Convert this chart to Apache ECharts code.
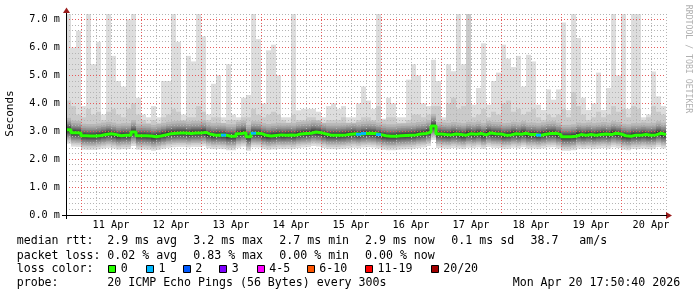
<!DOCTYPE html>
<html><head><meta charset="utf-8">
<script src="https://cdn.jsdelivr.net/npm/echarts@6/dist/echarts.min.js"></script>
<style>html,body{margin:0;padding:0;background:#fff}#c{width:697px;height:297px}</style>
</head><body><div id="c"></div>
<script>
// ---- data ----
const dayLabels = ['11 Apr','12 Apr','13 Apr','14 Apr','15 Apr','16 Apr','17 Apr','18 Apr','19 Apr','20 Apr'];
const yTickLabels = ['0.0 m','1.0 m','2.0 m','3.0 m','4.0 m','5.0 m','6.0 m','7.0 m'];
const hourStart = 18;   // hours after 10 Apr 00:00 at left edge
const stepHours = 2;    // one column = 2 hours
const hourEnd = 258;

// median RTT (ms), one value per 2-hour column
const rttMedian = [
 3.05,2.95,2.94,2.84,2.83,2.83,2.85,2.88,2.91,2.88,
 2.84,2.86,2.86,2.97,2.84,2.84,2.83,2.80,2.83,2.87,
 2.91,2.93,2.94,2.94,2.92,2.94,2.94,2.96,2.89,2.86,
 2.87,2.86,2.82,2.82,2.91,2.95,2.80,2.93,2.92,2.86,
 2.83,2.85,2.87,2.86,2.87,2.86,2.90,2.92,2.93,2.97,
 2.95,2.90,2.86,2.86,2.86,2.87,2.89,2.91,2.89,2.92,
 2.93,2.92,2.88,2.84,2.82,2.82,2.84,2.85,2.86,2.87,
 2.90,2.92,2.97,3.19,2.90,2.88,2.87,2.90,2.88,2.86,
 2.91,2.89,2.92,2.87,2.94,2.91,2.90,2.86,2.87,2.91,
 2.89,2.93,2.88,2.88,2.86,2.89,2.92,2.93,2.88,2.80,
 2.80,2.82,2.88,2.86,2.88,2.86,2.88,2.90,2.88,2.93,
 2.90,2.84,2.82,2.86,2.86,2.88,2.86,2.87,2.93,2.88
];
// slowest ping of the 20 (top of light smoke)
const pingMax = [
 7.2,6.0,6.6,3.9,7.2,5.4,6.2,3.6,7.2,5.7,
 4.8,4.6,7.0,7.2,4.2,3.6,3.5,3.9,3.5,4.8,
 4.8,7.2,6.2,3.6,5.7,5.5,7.2,6.4,3.6,4.7,
 5.0,3.5,5.4,3.6,3.5,4.2,4.3,7.2,6.3,4.0,
 5.9,6.1,5.0,3.5,3.5,7.2,3.75,3.8,3.8,3.8,
 3.7,3.5,3.9,4.0,3.8,3.9,3.5,3.5,4.0,4.6,
 4.1,3.8,7.2,3.45,4.2,4.0,3.5,3.5,4.85,5.4,
 5.0,4.0,3.9,5.56,4.8,3.5,5.4,5.15,7.2,5.4,
 7.2,3.95,4.55,6.15,3.95,4.8,5.1,6.1,5.6,5.3,
 5.7,4.6,5.74,5.5,3.95,3.76,4.5,4.13,4.5,6.9,
 3.76,7.2,6.34,4.2,3.76,4.0,5.1,3.76,4.55,7.2,
 5.0,7.2,3.8,7.2,7.2,3.5,3.6,5.14,4.25,3.9
];
// second slowest ping (top of medium smoke)
const ping19 = [
 4.1,3.9,3.6,3.5,3.8,3.6,3.7,3.4,3.7,3.8,
 3.6,3.5,3.8,4.0,3.6,3.4,3.3,3.4,3.3,3.5,
 3.6,3.8,3.7,3.4,3.5,3.5,3.9,3.7,3.4,3.5,
 3.5,3.3,3.4,3.4,3.4,3.5,3.5,3.8,3.6,3.5,
 3.6,3.7,3.6,3.4,3.3,3.6,3.4,3.4,3.5,3.5,
 3.4,3.3,3.4,3.4,3.4,3.5,3.3,3.3,3.4,3.5,
 3.5,3.4,3.9,3.4,3.5,3.5,3.3,3.3,3.4,3.6,
 3.6,3.5,3.6,3.9,3.9,3.4,4.0,4.2,3.8,3.9,
 7.2,3.5,3.6,3.8,3.5,3.7,3.6,4.0,4.1,3.7,
 3.8,3.6,3.7,3.8,3.5,3.4,3.6,3.5,3.6,3.8,
 3.5,4.4,3.9,3.6,3.4,3.5,3.7,3.5,3.6,3.9,
 3.7,3.8,3.5,3.9,3.8,3.4,3.5,3.9,3.7,3.6
];
// typical spread of the other pings around the median (ms)
const smokeLowOffsets  = [-0.50,-0.42,-0.36,-0.31,-0.26,-0.21,-0.16,-0.12,-0.08,-0.04]; // pings 1..10
const smokeHighOffsets = [0.04,0.08,0.12,0.16,0.21,0.27,0.34,0.43];                     // pings 11..18
// columns with packet loss and the number of lost pings
const lossColumns = [31,37,58,59,62,94];
const lossCounts  = [1,1,1,1,1,1];

// legend
const lossLabels = ['0','1','2','3','4-5','6-10','11-19','20/20'];
const lossColors = ['#26ff00','#00b8ff','#0059ff','#7e00ff','#ff00ff','#ff5500','#ff0000','#a00000'];
const rttStats  = ['2.9 ms avg','3.2 ms max','2.7 ms min','2.9 ms now','0.1 ms sd','38.7','am/s'];
const lossStats = ['0.02 % avg','0.83 % max','0.00 % min','0.00 % now'];

// ---- build ----
const FONT = '"DejaVu Sans Mono", monospace';
const yMax = 7.2;
const cats = rttMedian.map((_, i) => i);
function pingAt(k, c) {
  const m = rttMedian[c];
  if (k <= 10) return m + smokeLowOffsets[k - 1];
  if (k <= 18) return Math.min(m + smokeHighOffsets[k - 11], ping19[c]);
  if (k === 19) return Math.min(ping19[c], yMax);
  return Math.min(pingMax[c], yMax);
}
function lossColorFor(n) {
  if (n <= 0) return lossColors[0];
  if (n === 1) return lossColors[1];
  if (n === 2) return lossColors[2];
  if (n === 3) return lossColors[3];
  if (n <= 5) return lossColors[4];
  if (n <= 10) return lossColors[5];
  if (n <= 19) return lossColors[6];
  return lossColors[7];
}
const series = [];
for (let ii = 1; ii <= 10; ii++) {
  const shade = Math.floor(190 / 10 * (10 - ii)) + 50;
  const hx = shade.toString(16).padStart(2, '0');
  const col = '#' + hx + hx + hx;
  const lo = cats.map(c => pingAt(ii, c));
  const hi = cats.map(c => pingAt(21 - ii, c));
  series.push({type:'bar', xAxisIndex:1, yAxisIndex:0, stack:'s'+ii, data:lo,
    itemStyle:{color:'rgba(0,0,0,0)'}, barGap:'-100%', barCategoryGap:'0%', silent:true, z:2, animation:false});
  series.push({type:'bar', xAxisIndex:1, yAxisIndex:0, stack:'s'+ii, data:hi.map((h,i)=>Math.max(0,h-lo[i])),
    itemStyle:{color:col}, barGap:'-100%', barCategoryGap:'0%', silent:true, z:2, animation:false});
}
const MAJ = '#e65a5a', MIN = '#b4b4b4';
// median line
const medData = rttMedian.map((m, i) => [hourStart + stepHours * i, m]);
medData.push([hourEnd, rttMedian[rttMedian.length - 1]]);
series.push({type:'line', xAxisIndex:0, yAxisIndex:0, step:'end', data:medData, symbol:'none',
  lineStyle:{color:lossColors[0], width:3}, z:6, zlevel:1, animation:false, silent:true});
// loss-coloured median segments
const lossBase = cats.map(c => { const j = lossColumns.indexOf(c); return j >= 0 ? rttMedian[c] - 0.05 : null; });
const lossBand = cats.map(c => { const j = lossColumns.indexOf(c); return j >= 0 ? {value:0.1, itemStyle:{color:lossColorFor(lossCounts[j])}} : null; });
series.push({type:'bar', xAxisIndex:1, yAxisIndex:0, stack:'loss', data:lossBase, itemStyle:{color:'rgba(0,0,0,0)'}, barGap:'-100%', barCategoryGap:'0%', z:7, zlevel:1, animation:false, silent:true});
series.push({type:'bar', xAxisIndex:1, yAxisIndex:0, stack:'loss', data:lossBand, barGap:'-100%', barCategoryGap:'0%', z:7, zlevel:1, animation:false, silent:true});

const graphics = [];
function txt(x, y, s, extra) {
  graphics.push(Object.assign({type:'text', x:x, y:y, silent:true,
    style:{text:s, font:'11.6px ' + FONT, fill:'#000', align:'left', verticalAlign:'middle', textAlign:'left', textVerticalAlign:'middle'}}, extra || {}));
}
// rows
const rowY = [241, 255.5, 269.3, 283.3];
txt(16.7, rowY[0], 'median rtt:');
const rttX = [107.3, 193.3, 279.3, 365, 451.3, 530.5, 579.3];
rttStats.forEach((s, i) => txt(rttX[i], rowY[0], s));
txt(16.7, rowY[1], 'packet loss:');
lossStats.forEach((s, i) => txt(rttX[i], rowY[1], s));
txt(16.7, rowY[2], 'loss color:');
const boxX = [108.3, 146, 182.7, 219.3, 256.7, 306.7, 365, 430.7];
lossLabels.forEach((s, i) => {
  graphics.push({type:'rect', silent:true, shape:{x:Math.round(boxX[i]) + 0.5, y:265.5, width:7, height:7},
    style:{fill:lossColors[i], stroke:'#000', lineWidth:1}});
  txt(boxX[i] + 12.5, rowY[2], s);
});
txt(16.7, rowY[3], 'probe:');
txt(107.3, rowY[3], '20 ICMP Echo Pings (56 Bytes) every 300s');
txt(512.7, rowY[3], 'Mon Apr 20 17:50:40 2026');
// y title
graphics.push({type:'text', x:10, y:113.5, rotation:Math.PI/2, silent:true,
  style:{text:'Seconds', font:'11px ' + FONT, fill:'#000', align:'center', verticalAlign:'middle', textAlign:'center', textVerticalAlign:'middle'}});
// watermark
graphics.push({type:'text', x:688, y:59, rotation:-Math.PI/2, silent:true,
  style:{text:'RRDTOOL / TOBI OETIKER', font:'8.2px ' + FONT, fill:'#b0b0b0', align:'center', verticalAlign:'middle', textAlign:'center', textVerticalAlign:'middle'}});
// axis arrows and lines
graphics.push({type:'polygon', silent:true, z:20, zlevel:2, shape:{points:[[666,212],[666,219],[672,215.5]]}, style:{fill:'#9b1c1c'}});
graphics.push({type:'polygon', silent:true, z:20, zlevel:2, shape:{points:[[63,13],[70,13],[66.5,7.5]]}, style:{fill:'#9b1c1c'}});
graphics.push({type:'line', silent:true, z:20, zlevel:2, shape:{x1:66.5, y1:13, x2:66.5, y2:219}, style:{stroke:'#000', lineWidth:1}});
graphics.push({type:'line', silent:true, z:20, zlevel:2, shape:{x1:62, y1:215.5, x2:667, y2:215.5}, style:{stroke:'#000', lineWidth:1}});

const chart = echarts.init(document.getElementById('c'), null, {renderer:'canvas'});
chart.setOption({
  animation:false,
  backgroundColor:'#ffffff',
  grid:{left:66, top:14, width:600, height:201, containLabel:false},
  xAxis:[
    {type:'value', min:hourStart, max:hourEnd, interval:6, position:'bottom', z:10,
     axisLine:{show:false}, axisTick:{show:false}, splitLine:{show:false},
     axisLabel:{show:true, margin:5, color:'#000', fontFamily:FONT, fontSize:10.2,
       formatter:v => (((v - 12) % 24) === 0 ? (dayLabels[(v - 36) / 24] || '') : '')}},
    {type:'category', data:cats, show:false, boundaryGap:true}
  ],
  yAxis:[
    {type:'value', min:0, max:yMax, interval:0.2, z:10,
     axisLine:{show:false}, axisTick:{show:false}, splitLine:{show:false},
     axisLabel:{show:true, margin:6, color:'#000', fontFamily:FONT, fontSize:10.2,
       formatter:v => (Math.abs(v - Math.round(v)) < 1e-6 ? (yTickLabels[Math.round(v)] || '') : '')}}
  ],
  series:series,
  graphic:graphics
});

// grid lines placed through the axis scales (every 6 h / 0.2 ms; red at midnights / whole ms)
const gridEls = [];
const plotTop = chart.convertToPixel({yAxisIndex:0}, yMax);
const plotBottom = chart.convertToPixel({yAxisIndex:0}, 0);
const plotLeft = chart.convertToPixel({xAxisIndex:0}, hourStart);
const plotRight = chart.convertToPixel({xAxisIndex:0}, hourEnd);
for (let h = hourStart + 6; h <= hourEnd; h += 6) {
  const px = Math.round(chart.convertToPixel({xAxisIndex:0}, h)) + 0.5;
  const major = (h % 24) === 0;
  gridEls.push({type:'line', silent:true, zlevel:1, z:major ? 3 : 2,
    shape:{x1:px, y1:Math.floor(plotTop), x2:px, y2:plotBottom},
    style:{stroke: major ? MAJ : MIN, lineWidth:1, lineDash:[1,2]}});
}
for (let k = 1; k <= 36; k++) {
  const v = k / 5;
  const py = Math.floor(chart.convertToPixel({yAxisIndex:0}, v)) + 0.5;
  const major = (k % 5) === 0;
  gridEls.push({type:'line', silent:true, zlevel:1, z:major ? 3 : 2,
    shape:{x1:plotLeft, y1:py, x2:plotRight, y2:py},
    style:{stroke: major ? MAJ : MIN, lineWidth:1, lineDash:[1,2]}});
}
chart.setOption({graphic: graphics.concat(gridEls)});
</script>
</body></html>
